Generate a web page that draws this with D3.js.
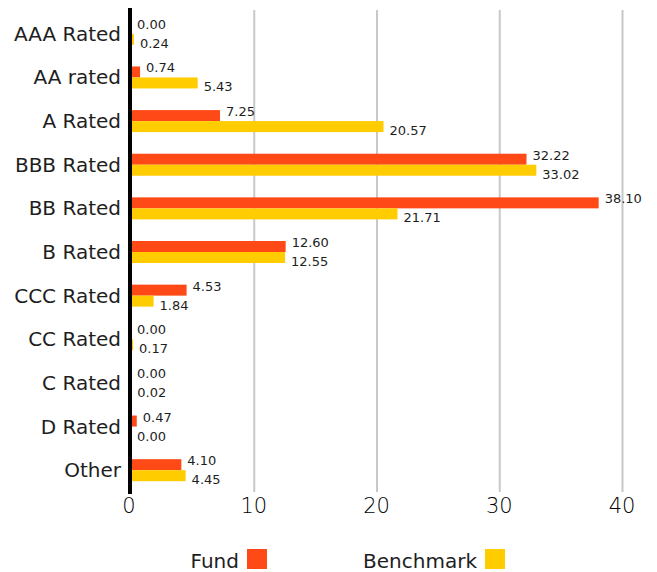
<!DOCTYPE html>
<html lang="en">
<head>
    <meta charset="UTF-8">
    <title>Credit rating breakdown</title>
    <script src="https://cdn.jsdelivr.net/npm/d3@7"></script>
    <style>
        body{margin: 0; background: #fff}
        svg text{font-family: "DejaVu Sans", sans-serif; fill: #1e1e1e}
        svg text.light{font-weight: 300; fill: #000}
        .grid line{stroke: #c8c8c8; stroke-width: 2}
        .grid path{display: none}
    </style>
</head>
<body>
    <svg></svg>
    <script>
        var categories = ['AAA Rated', 'AA rated', 'A Rated', 'BBB Rated', 'BB Rated', 'B Rated', 'CCC Rated', 'CC Rated', 'C Rated', 'D Rated', 'Other']
        var fund = [0.00, 0.74, 7.25, 32.22, 38.10, 12.60, 4.53, 0.00, 0.00, 0.47, 4.10]
        var benchmark = [0.24, 5.43, 20.57, 33.02, 21.71, 12.55, 1.84, 0.17, 0.02, 0.00, 4.45]
        var seriesNames = ['Fund', 'Benchmark']
        var colors = ['#ff4a17', '#ffcc00']
        var xTicks = [0, 10, 20, 30, 40]

        var width = 657, height = 572
        var plotLeft = 131, plotRight = 622, plotTop = 12, plotBottom = 492

        var svg = d3.select('svg')
            .attr('width', width)
            .attr('height', height)

        var xScale = d3.scaleLinear()
            .domain([0, 40])
            .range([plotLeft, plotRight])
        var yScale = d3.scaleBand()
            .domain(categories)
            .range([plotTop, plotBottom])
        var inner = d3.scaleBand()
            .domain(seriesNames)
            .range([0, 22])

        // gridlines
        svg.append('g')
            .attr('class', 'grid')
            .attr('transform', `translate(0, ${plotTop - 2})`)
            .call(d3.axisBottom(xScale).tickValues(xTicks.slice(1)).tickSize(plotBottom - plotTop + 2).tickFormat(''))

        // tick labels
        svg.append('g')
            .selectAll('text')
            .data(xTicks)
            .enter()
            .append('text')
            .attr('class', 'light')
            .attr('x', d => xScale(d) - (d === 0 ? 2 : 0))
            .attr('y', 513)
            .attr('text-anchor', 'middle')
            .style('font-size', '21px')
            .text(d => d)

        var rows = categories.map((c, i) => ({cat: c, values: [fund[i], benchmark[i]]}))

        var groups = svg.selectAll('.row')
            .data(rows)
            .enter()
            .append('g')
            .attr('class', 'row')
            .attr('transform', d => `translate(0, ${yScale(d.cat) + yScale.bandwidth() / 2 - 11})`)

        groups.selectAll('rect')
            .data(d => d.values.map((v, j) => ({v: v, s: seriesNames[j], j: j})))
            .enter()
            .append('rect')
            .attr('x', xScale(0))
            .attr('y', d => inner(d.s))
            .attr('width', d => xScale(d.v) - xScale(0))
            .attr('height', inner.bandwidth())
            .attr('fill', d => colors[d.j])

        groups.selectAll('.val')
            .data(d => d.values.map((v, j) => ({v: v, s: seriesNames[j], j: j})))
            .enter()
            .append('text')
            .attr('class', 'val')
            .attr('x', d => xScale(d.v) + 6)
            .attr('y', d => d.j === 0 ? 6 : 25)
            .style('font-size', '13px')
            .text(d => d.v.toFixed(2))

        // category labels
        groups.append('text')
            .attr('x', 121)
            .attr('y', 18)
            .attr('text-anchor', 'end')
            .style('font-size', '20px')
            .text(d => d.cat)

        // zero axis
        svg.append('line')
            .attr('x1', xScale(0) - 1)
            .attr('x2', xScale(0) - 1)
            .attr('y1', 8)
            .attr('y2', plotBottom + 2)
            .attr('stroke', '#000')
            .attr('stroke-width', 4)

        // legend
        var legend = svg.append('g')
        var legendX = [239, 477]
        seriesNames.forEach((name, j) => {
            legend.append('text')
                .attr('x', legendX[j])
                .attr('y', 568)
                .attr('text-anchor', 'end')
                .style('font-size', '20px')
                .text(name)
            legend.append('rect')
                .attr('x', legendX[j] + 8)
                .attr('y', 549)
                .attr('width', 20)
                .attr('height', 20)
                .attr('fill', colors[j])
        })
    </script>
</body>
</html>
